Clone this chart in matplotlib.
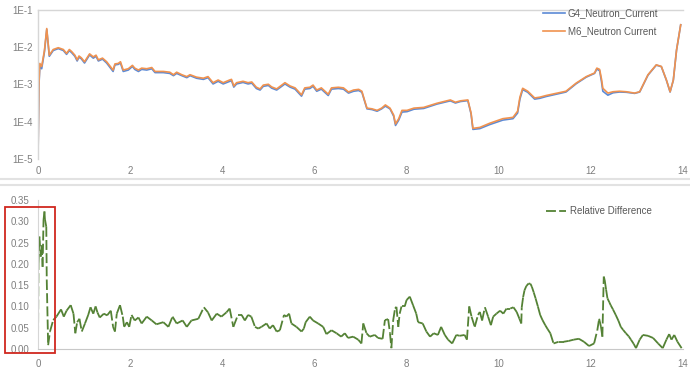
import matplotlib
matplotlib.use("Agg")
import matplotlib.pyplot as plt
import numpy as np
from matplotlib.collections import LineCollection
from matplotlib.lines import Line2D
from matplotlib.patches import Rectangle
from matplotlib.ticker import FixedLocator, FuncFormatter

plt.rcParams['font.family'] = ['Liberation Sans', 'DejaVu Sans']

# Neutron current (top panel, log scale)
top_x = [0.0, 0.02, 0.04, 0.08, 0.14, 0.19, 0.245, 0.33, 0.44, 0.55,
         0.62, 0.68, 0.73, 0.80, 0.85, 0.89, 0.94, 1.01, 1.12, 1.20,
         1.26, 1.31, 1.40, 1.49, 1.63, 1.67, 1.74, 1.79, 1.85, 1.96,
         2.05, 2.10, 2.18, 2.25, 2.36, 2.47, 2.54, 2.72, 2.86, 2.94,
         3.01, 3.12, 3.23, 3.30, 3.44, 3.59, 3.69, 3.80, 3.91, 4.02,
         4.16, 4.20, 4.25, 4.31, 4.45, 4.56, 4.64, 4.74, 4.82, 4.89,
         5.00, 5.07, 5.18, 5.36, 5.47, 5.58, 5.72, 5.79, 5.90, 5.97,
         6.05, 6.15, 6.30, 6.37, 6.52, 6.63, 6.74, 6.85, 6.96, 7.03,
         7.08, 7.14, 7.25, 7.36, 7.46, 7.54, 7.64, 7.72, 7.76, 7.83,
         7.90, 8.01, 8.16, 8.37, 8.66, 8.95, 9.06, 9.17, 9.33, 9.40,
         9.44, 9.59, 9.80, 10.09, 10.31, 10.41, 10.46, 10.52, 10.63, 10.78,
         10.89, 11.03, 11.25, 11.46, 11.68, 11.90, 12.08, 12.13, 12.19, 12.23,
         12.26, 12.37, 12.48, 12.62, 12.77, 12.95, 13.06, 13.24, 13.42, 13.53,
         13.64, 13.72, 13.79, 13.86, 13.95]

m6_current = [1e-5, 1e-3, 3.6e-3, 3.0e-3, 8e-3, 3.1e-2, 6e-3, 8.5e-3, 9.5e-3, 8.5e-3,
              6.7e-3, 8.5e-3, 7.5e-3, 6e-3, 4.5e-3, 5.7e-3, 5.1e-3, 4e-3, 6.5e-3, 5.4e-3,
              6e-3, 4.5e-3, 5e-3, 4e-3, 2.4e-3, 3.5e-3, 3.6e-3, 4e-3, 2.4e-3, 2.6e-3,
              3.2e-3, 2.7e-3, 2.4e-3, 2.7e-3, 2.6e-3, 2.8e-3, 2.2e-3, 2.2e-3, 2.1e-3, 1.8e-3,
              2.1e-3, 1.8e-3, 1.6e-3, 1.8e-3, 1.55e-3, 1.45e-3, 1.6e-3, 1.1e-3, 1.3e-3, 1.1e-3,
              1.3e-3, 1.35e-3, 9e-4, 1.1e-3, 1.2e-3, 1.1e-3, 1.15e-3, 8.3e-4, 7.5e-4, 9.5e-4,
              1e-3, 8.5e-4, 7.5e-4, 1.1e-3, 9e-4, 8e-4, 5.2e-4, 8e-4, 8.3e-4, 9.5e-4,
              7e-4, 8e-4, 5.4e-4, 8e-4, 8.3e-4, 8e-4, 6.2e-4, 7e-4, 7.3e-4, 6.5e-4,
              4e-4, 2.3e-4, 2.2e-4, 2.0e-4, 2.3e-4, 2.8e-4, 2.3e-4, 1.5e-4, 8.7e-5, 1.2e-4,
              2.0e-4, 2.0e-4, 2.3e-4, 2.4e-4, 3.1e-4, 3.8e-4, 3.3e-4, 3.6e-4, 3.8e-4, 1.7e-4,
              6.6e-5, 7e-5, 9e-5, 1.2e-4, 1.3e-4, 1.9e-4, 4.5e-4, 7.8e-4, 6.5e-4, 4.3e-4,
              4.5e-4, 5e-4, 5.7e-4, 6.5e-4, 1.07e-3, 1.6e-3, 2.0e-3, 2.7e-3, 2.5e-3, 1.4e-3,
              7.8e-4, 5.8e-4, 6.3e-4, 6.5e-4, 6.3e-4, 5.8e-4, 6.3e-4, 1.8e-3, 3.3e-3, 3e-3,
              1.3e-3, 6.3e-4, 1.3e-3, 8.3e-3, 3.9e-2]

g4_current = [1e-5, 9e-4, 3.0e-3, 2.6e-3, 7.4e-3, 2.9e-2, 5.6e-3, 8.0e-3, 9.0e-3, 8.0e-3,
              6.3e-3, 8.0e-3, 7.0e-3, 5.6e-3, 4.2e-3, 5.3e-3, 4.8e-3, 3.7e-3, 6.1e-3, 5.0e-3,
              5.6e-3, 4.2e-3, 4.7e-3, 3.7e-3, 2.2e-3, 3.3e-3, 3.4e-3, 3.7e-3, 2.2e-3, 2.4e-3,
              3.0e-3, 2.5e-3, 2.2e-3, 2.5e-3, 2.4e-3, 2.6e-3, 2.05e-3, 2.05e-3, 1.95e-3, 1.7e-3,
              1.95e-3, 1.7e-3, 1.5e-3, 1.7e-3, 1.45e-3, 1.35e-3, 1.5e-3, 1.02e-3, 1.2e-3, 1.02e-3,
              1.2e-3, 1.25e-3, 8.4e-4, 1.02e-3, 1.12e-3, 1.02e-3, 1.07e-3, 7.7e-4, 7.0e-4, 8.8e-4,
              9.3e-4, 7.9e-4, 7.0e-4, 1.02e-3, 8.4e-4, 7.4e-4, 4.8e-4, 7.4e-4, 7.7e-4, 8.8e-4,
              6.5e-4, 7.4e-4, 5.0e-4, 7.4e-4, 7.7e-4, 7.4e-4, 5.8e-4, 6.5e-4, 6.8e-4, 6.1e-4,
              3.8e-4, 2.2e-4, 2.1e-4, 1.9e-4, 2.2e-4, 2.6e-4, 2.2e-4, 1.4e-4, 7.9e-5, 1.1e-4,
              1.8e-4, 1.85e-4, 2.15e-4, 2.25e-4, 2.95e-4, 3.6e-4, 3.15e-4, 3.45e-4, 3.65e-4, 1.6e-4,
              6.2e-5, 6.5e-5, 8.3e-5, 1.1e-4, 1.2e-4, 1.7e-4, 4.0e-4, 7.2e-4, 6.1e-4, 4.0e-4,
              4.2e-4, 4.7e-4, 5.4e-4, 6.2e-4, 1.03e-3, 1.55e-3, 1.95e-3, 2.55e-3, 2.3e-3, 1.2e-3,
              6.5e-4, 5.1e-4, 5.9e-4, 6.2e-4, 6.1e-4, 5.7e-4, 6.2e-4, 1.75e-3, 3.25e-3, 2.95e-3,
              1.28e-3, 6.2e-4, 1.28e-3, 8.2e-3, 3.9e-2]

# Relative difference (bottom panel)
rel_x = [0.0, 0.01, 0.03, 0.06, 0.08, 0.10, 0.12, 0.14, 0.15, 0.18,
         0.19, 0.22, 0.26, 0.33, 0.40, 0.50, 0.56, 0.62, 0.71, 0.77,
         0.81, 0.85, 0.90, 0.95, 1.02, 1.09, 1.14, 1.20, 1.25, 1.29,
         1.34, 1.43, 1.50, 1.58, 1.63, 1.67, 1.71, 1.78, 1.84, 1.87,
         1.93, 1.98, 2.03, 2.10, 2.18, 2.25, 2.36, 2.47, 2.57, 2.72,
         2.83, 2.92, 3.01, 3.14, 3.23, 3.33, 3.48, 3.60, 3.69, 3.77,
         3.88, 3.98, 4.09, 4.16, 4.24, 4.34, 4.42, 4.49, 4.56, 4.63,
         4.71, 4.78, 4.85, 4.96, 5.03, 5.10, 5.18, 5.25, 5.34, 5.39,
         5.45, 5.50, 5.61, 5.72, 5.77, 5.81, 5.90, 5.97, 6.08, 6.19,
         6.26, 6.37, 6.48, 6.58, 6.66, 6.73, 6.84, 6.95, 7.02, 7.06,
         7.13, 7.20, 7.31, 7.38, 7.48, 7.53, 7.60, 7.64, 7.67, 7.71,
         7.75, 7.78, 7.82, 7.85, 7.89, 7.96, 8.00, 8.07, 8.14, 8.21,
         8.25, 8.35, 8.43, 8.51, 8.59, 8.68, 8.75, 8.83, 8.90, 8.99,
         9.08, 9.15, 9.26, 9.31, 9.36, 9.41, 9.48, 9.55, 9.59, 9.64,
         9.70, 9.77, 9.83, 9.88, 9.95, 10.03, 10.10, 10.17, 10.25, 10.32,
         10.39, 10.45, 10.49, 10.50, 10.53, 10.56, 10.60, 10.65, 10.69, 10.72,
         10.76, 10.80, 10.85, 10.90, 10.95, 11.01, 11.06, 11.12,
         11.19, 11.30, 11.41, 11.52, 11.63, 11.74, 11.85, 11.96, 12.07,
         12.14, 12.18, 12.22, 12.25, 12.28, 12.30, 12.33, 12.36, 12.40, 12.43,
         12.48, 12.54, 12.60, 12.65, 12.70, 12.76, 12.82, 12.87, 12.93, 12.98,
         13.06, 13.13, 13.24, 13.35, 13.46, 13.56, 13.64,
         13.70, 13.75, 13.81, 13.88, 13.97]

rel_diff = [0.0, 0.20, 0.264, 0.217, 0.244, 0.193, 0.303, 0.323, 0.305, 0.287,
            0.162, 0.009, 0.041, 0.068, 0.076, 0.093, 0.076, 0.09, 0.103, 0.083,
            0.037, 0.063, 0.071, 0.041, 0.06, 0.08, 0.098, 0.083, 0.10, 0.086,
            0.074, 0.083, 0.079, 0.09, 0.052, 0.041, 0.083, 0.103, 0.076, 0.052,
            0.063, 0.052, 0.08, 0.067, 0.074, 0.06, 0.076, 0.067, 0.058, 0.063,
            0.052, 0.076, 0.06, 0.067, 0.052, 0.067, 0.071, 0.098, 0.086, 0.067,
            0.083, 0.076, 0.086, 0.095, 0.052, 0.08, 0.08, 0.067, 0.08, 0.076,
            0.052, 0.048, 0.052, 0.06, 0.048, 0.056, 0.041, 0.044, 0.08, 0.076,
            0.083, 0.06, 0.052, 0.041, 0.048, 0.063, 0.076, 0.067, 0.06, 0.052,
            0.035, 0.044, 0.037, 0.029, 0.037, 0.026, 0.029, 0.022, 0.013, 0.06,
            0.037, 0.029, 0.033, 0.026, 0.024, 0.068, 0.07, 0.037, 0.002, 0.068,
            0.095, 0.099, 0.052, 0.083, 0.10, 0.10, 0.115, 0.123, 0.103, 0.083,
            0.063, 0.06, 0.041, 0.029, 0.037, 0.033, 0.052, 0.033, 0.022, 0.013,
            0.033, 0.031, 0.033, 0.022, 0.10, 0.076, 0.052, 0.08, 0.087, 0.067,
            0.098, 0.076, 0.056, 0.076, 0.083, 0.09, 0.083, 0.095, 0.095, 0.098,
            0.087, 0.071, 0.06, 0.098, 0.122, 0.138, 0.148, 0.154, 0.153, 0.146,
            0.133, 0.119, 0.10, 0.08, 0.068, 0.056, 0.047, 0.037,
            0.013, 0.017, 0.017, 0.019, 0.022, 0.024, 0.017, 0.007, 0.013,
            0.044, 0.071, 0.052, 0.029, 0.170, 0.162, 0.140, 0.119, 0.11, 0.103,
            0.093, 0.08, 0.066, 0.052, 0.045, 0.037, 0.03, 0.022, 0.012, 0.002,
            0.022, 0.033, 0.031, 0.026, 0.013, 0.002, 0.022,
            0.035, 0.022, 0.033, 0.017, 0.002]

x_ticks = [0, 2, 4, 6, 8, 10, 12, 14]
top_y_ticks = [1e-5, 1e-4, 1e-3, 1e-2, 1e-1]
bottom_y_ticks = [0.0, 0.05, 0.10, 0.15, 0.20, 0.25, 0.30, 0.35]

BLUE = "#5b8ad6"
ORANGE = "#f0924f"
GREEN = "#548235"
TICK_GRAY = "#7f7f7f"
AXIS_GRAY = "#d6d6d6"
DASH = (0, (5.5, 1.8))

W, H = 690, 369
fig = plt.figure(figsize=(6.9, 3.69), dpi=100)


def fx(px):
    return px / W


def fy(py):
    return 1 - py / H


ax1 = fig.add_axes([fx(38), fy(159), fx(683) - fx(38), fy(9.5) - fy(159)])
ax2 = fig.add_axes([fx(38), fy(349), fx(683) - fx(38), fy(200) - fy(349)])

# top panel
ax1.plot(top_x, g4_current, color=BLUE, lw=1.2, label="G4_Neutron_Current")
ax1.plot(top_x, m6_current, color=ORANGE, lw=1.2, label="M6_Neutron Current")
ax1.set_yscale("log")
ax1.set_ylim(1e-5, 1e-1)
ax1.set_xlim(0, 14)
ax1.yaxis.set_major_locator(FixedLocator(top_y_ticks))
ax1.yaxis.set_minor_locator(FixedLocator([]))
ax1.yaxis.set_major_formatter(FuncFormatter(lambda v, p: "1E%d" % round(np.log10(v))))
ax1.set_xticks(x_ticks)
ax1.tick_params(axis="y", length=0, pad=4, labelsize=7, labelcolor=TICK_GRAY)
ax1.tick_params(axis="x", length=0, pad=5, labelsize=7, labelcolor=TICK_GRAY)
for side in ["right", "bottom"]:
    ax1.spines[side].set_visible(False)
for side in ["left", "top"]:
    ax1.spines[side].set_color(AXIS_GRAY)
    ax1.spines[side].set_linewidth(1.0)

fig.legend(handles=ax1.get_lines(), loc="upper left",
           bbox_to_anchor=(fx(543), fy(8)), frameon=False, fontsize=7,
           labelcolor="#595959", handlelength=2.3, handletextpad=0.25,
           labelspacing=0.85, borderpad=0, borderaxespad=0)

# bottom panel: dash pattern restarts on every segment
pts = np.column_stack([rel_x, rel_diff])
segs = np.stack([pts[:-1], pts[1:]], axis=1)
lc = LineCollection(segs, colors=GREEN, linewidths=1.3,
                    linestyles=[DASH], capstyle="butt")
ax2.add_collection(lc)
ax2.set_xlim(0, 14)
ax2.set_ylim(0, 0.35)
ax2.set_xticks(x_ticks)
ax2.set_yticks(bottom_y_ticks)
ax2.yaxis.set_major_formatter(FuncFormatter(lambda v, p: "%.2f" % v))
ax2.tick_params(axis="y", length=0, pad=6, labelsize=7, labelcolor=TICK_GRAY)
ax2.tick_params(axis="x", length=0, pad=7, labelsize=7, labelcolor=TICK_GRAY)
for side in ["right", "top"]:
    ax2.spines[side].set_visible(False)
ax2.spines["left"].set_color(AXIS_GRAY)
ax2.spines["bottom"].set_color("#c8c8c8")

rel_handle = Line2D([], [], color=GREEN, lw=1.3, linestyle=DASH)
fig.legend(handles=[rel_handle], labels=["Relative Difference"], loc="upper left",
           bbox_to_anchor=(fx(546), fy(206)), frameon=False, fontsize=7,
           labelcolor="#595959", handlelength=2.1, handletextpad=0.35,
           borderpad=0, borderaxespad=0)

# separator between the two charts
for py in [179, 185]:
    fig.add_artist(Line2D([0, 1], [fy(py), fy(py)], transform=fig.transFigure,
                          color="#e2e2e2", lw=1.5))

# red box around the bottom y axis labels
fig.add_artist(Rectangle((fx(5), fy(353)), fx(55) - fx(5), fy(207) - fy(353),
                         transform=fig.transFigure, fill=False,
                         edgecolor="#d0281f", lw=1.3))

fig.savefig("out.png", dpi=100)
